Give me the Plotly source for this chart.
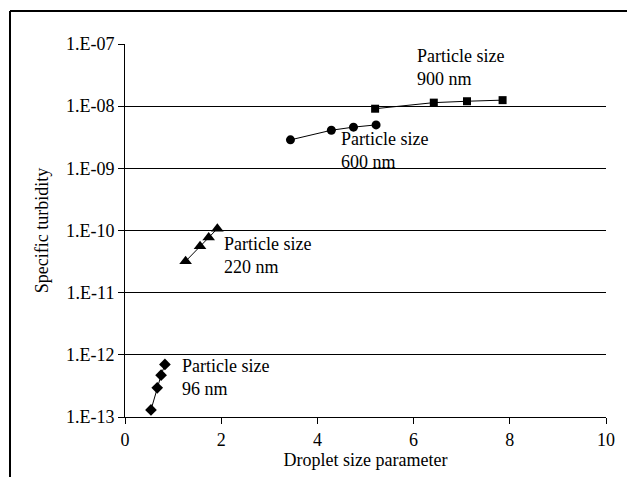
import plotly.graph_objects as go
import numpy as np

# Data
x_96 = [0.54, 0.67, 0.75, 0.83]
y_96 = [1.3e-13, 2.95e-13, 4.7e-13, 7.0e-13]
x_220 = [1.26, 1.56, 1.74, 1.92]
y_220 = [3.2e-11, 5.6e-11, 7.7e-11, 1.07e-10]
x_600 = [3.44, 4.29, 4.75, 5.22]
y_600 = [2.87e-9, 4.1e-9, 4.6e-9, 5.0e-9]
x_900 = [5.20, 6.42, 7.11, 7.85]
y_900 = [9.1e-9, 1.14e-8, 1.2e-8, 1.25e-8]

y_tickvals = [1e-13, 1e-12, 1e-11, 1e-10, 1e-9, 1e-8, 1e-7]
y_ticktext = ["1.E-13", "1.E-12", "1.E-11", "1.E-10", "1.E-09", "1.E-08", "1.E-07"]
x_tickvals = [0, 2, 4, 6, 8, 10]

labels = ["Particle size<br>96 nm", "Particle size<br>220 nm",
          "Particle size<br>600 nm", "Particle size<br>900 nm"]
label_x = [1.14, 2.01, 4.45, 6.03]
label_logy = [-12.37, -10.405, -8.715, -7.378]

FONT = "Liberation Serif"
fig = go.Figure()
series = [(x_96, y_96, "diamond", 9), (x_220, y_220, "triangle-up", 11),
          (x_600, y_600, "circle", 9), (x_900, y_900, "square", 8)]
for xs, ys, sym, sz in series:
    fig.add_trace(go.Scatter(x=xs, y=ys, mode="lines+markers",
                             line=dict(color="black", width=1),
                             marker=dict(symbol=sym, size=sz, color="black"),
                             showlegend=False))

for t, lx, ly in zip(labels, label_x, label_logy):
    fig.add_annotation(x=lx, y=ly, text=t, showarrow=False, xanchor="left",
                       yanchor="middle", align="left",
                       font=dict(family=FONT, size=18, color="black"))

# outer frame (partially cropped in reference)
W, H = 627, 477
l, r, t, b = 125, 21, 44, 60
pw, ph = W - l - r, H - t - b
def px(xp): return (xp - l) / pw
def py(yp): return (H - b - yp) / ph
fig.add_shape(type="line", xref="paper", yref="paper", x0=px(10), x1=px(627),
              y0=py(11), y1=py(11), line=dict(color="black", width=2))
fig.add_shape(type="line", xref="paper", yref="paper", x0=px(10), x1=px(10),
              y0=py(11), y1=py(477), line=dict(color="black", width=2))

fig.update_layout(
    width=W, height=H, margin=dict(l=l, r=r, t=t, b=b),
    paper_bgcolor="white", plot_bgcolor="white",
    font=dict(family=FONT, size=18, color="black"),
    xaxis=dict(range=[0, 10], tickvals=x_tickvals, showgrid=False,
               showline=True, linecolor="black", linewidth=1,
               ticks="outside", ticklen=6, tickcolor="black", zeroline=False,
               tickfont=dict(family=FONT, size=18),
               title=dict(text="Droplet size parameter", standoff=0,
                          font=dict(family=FONT, size=18))),
    yaxis=dict(type="log", range=[-13, -7], tickvals=y_tickvals, ticktext=y_ticktext,
               showgrid=True, gridcolor="black", gridwidth=1,
               showline=True, linecolor="black", linewidth=1,
               ticks="outside", ticklen=6, tickcolor="black", zeroline=False,
               tickfont=dict(family=FONT, size=18),
               title=dict(text="Specific turbidity", standoff=12,
                          font=dict(family=FONT, size=18))),
)
fig.write_html("out.html")
